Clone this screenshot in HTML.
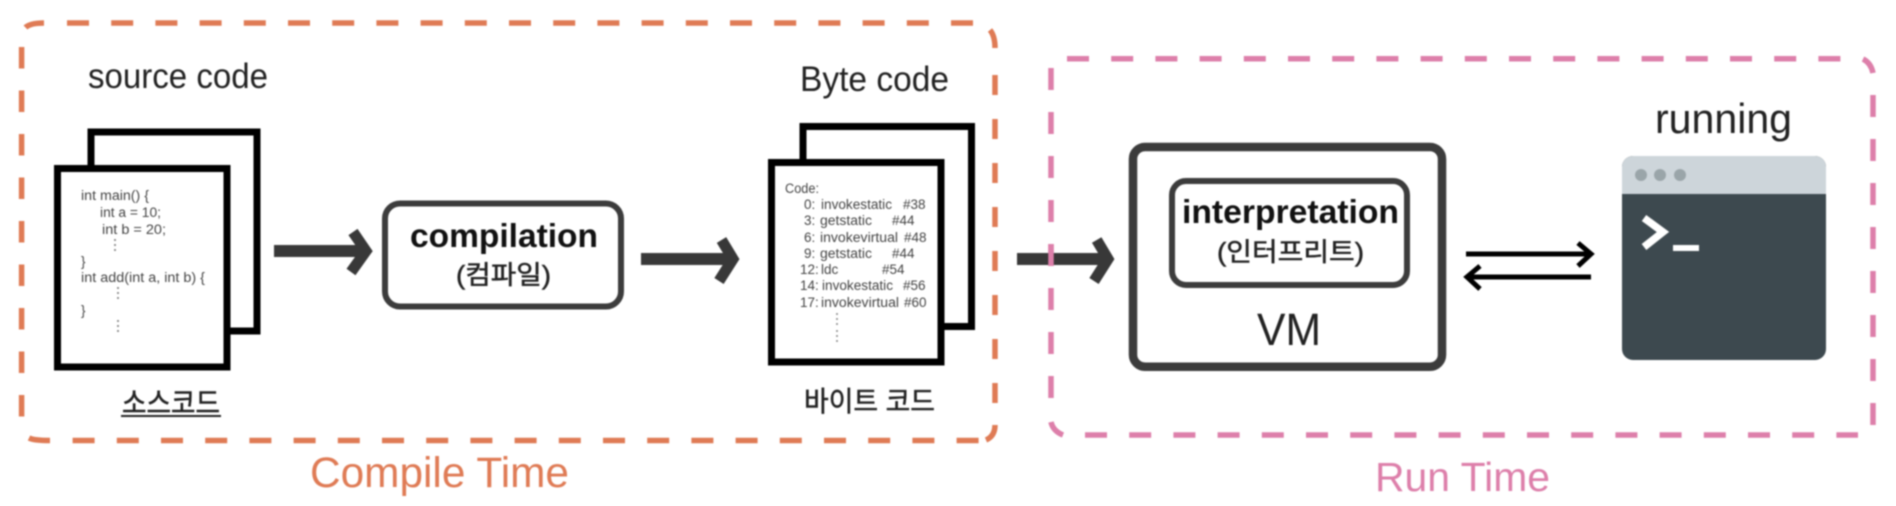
<!DOCTYPE html>
<html><head><meta charset="utf-8">
<style>
html,body{margin:0;padding:0;background:#fff;width:1896px;height:506px;overflow:hidden}
svg{display:block;filter:blur(0.7px)}
text{font-family:"Liberation Sans","Noto Sans CJK KR",sans-serif;fill:#222}
.c{font-size:13.5px;fill:#444}
.ko{font-family:"Liberation Sans","Noto Sans CJK KR",sans-serif;stroke:#222;stroke-width:0.5px}
</style></head><body>
<svg width="1896" height="506" viewBox="0 0 1896 506" xmlns="http://www.w3.org/2000/svg">
<rect width="1896" height="506" fill="#fff"/>

<!-- Compile Time dashed box -->
<g fill="none" stroke="#df7b55" stroke-width="5.5">
<path d="M25.5 27.5 Q30 23 44 23"/>
<path d="M67 23H974" stroke-dasharray="22 22.2"/>
<path d="M21.6 47V422" stroke-dasharray="21.5 22"/>
<path d="M29 438 Q34 440.5 50 440.5"/>
<path d="M72.6 440.5H979" stroke-dasharray="22 22.2"/>
<path d="M990 30 Q995 36 995 48"/>
<path d="M995 75V405" stroke-dasharray="20 24"/>
<path d="M995 425 Q995 436 986 440"/>
</g>

<!-- Run Time dashed box -->
<g fill="none" stroke="#dd7faa" stroke-width="5.5">
<path d="M1067 58.7H1842" stroke-dasharray="22 22.2"/>
<path d="M1051 68V398" stroke-dasharray="22 22"/>
<path d="M1051 422 Q1053 431 1063 435"/>
<path d="M1085 435H1858" stroke-dasharray="22 22.2"/>
<path d="M1863 59 Q1871 63 1873 73"/>
<path d="M1873 95V425" stroke-dasharray="22 22"/>
</g>

<!-- Source pages -->
<rect x="91" y="132" width="166" height="199" fill="#fff" stroke="#000" stroke-width="7"/>
<rect x="57.5" y="168.5" width="169.5" height="198.5" fill="#fff" stroke="#000" stroke-width="7"/>
<text x="88" y="88" font-size="35" textLength="180" lengthAdjust="spacingAndGlyphs">source code</text>
<g class="code">
<text class="c" x="81" y="200" textLength="68" lengthAdjust="spacingAndGlyphs">int main() {</text>
<text class="c" x="100" y="217" textLength="61" lengthAdjust="spacingAndGlyphs">int a = 10;</text>
<text class="c" x="102" y="234" textLength="64" lengthAdjust="spacingAndGlyphs">int b = 20;</text>
<text class="c" x="81" y="266">}</text>
<text class="c" x="81" y="282" textLength="124" lengthAdjust="spacingAndGlyphs">int add(int a, int b) {</text>
<text class="c" x="81" y="315">}</text>
</g>
<g fill="#777">
<circle cx="115" cy="240" r="1"/><circle cx="115" cy="245" r="1"/><circle cx="115" cy="250" r="1"/>
<circle cx="118" cy="288" r="1"/><circle cx="118" cy="293" r="1"/><circle cx="118" cy="298" r="1"/>
<circle cx="118" cy="321" r="1"/><circle cx="118" cy="326" r="1"/><circle cx="118" cy="331" r="1"/>
</g>
<text class="ko" x="122" y="413" font-size="29" textLength="98" lengthAdjust="spacingAndGlyphs">소스코드</text>
<rect x="121" y="415" width="100" height="2" fill="#222"/>

<!-- Arrow 1 -->
<g fill="none" stroke="#383838">
<path d="M274 251H362" stroke-width="12"/><path d="M353 232L366 251L351 272" stroke-width="11"/>
</g>

<!-- Compilation -->
<rect x="385" y="203.5" width="236" height="103" rx="15" fill="#fff" stroke="#3c3c3c" stroke-width="6"/>
<text x="410" y="247" font-size="33" font-weight="bold" textLength="188" lengthAdjust="spacingAndGlyphs" style="fill:#111">compilation</text>
<text class="ko" x="456" y="284" font-size="26" textLength="95" lengthAdjust="spacingAndGlyphs">(컴파일)</text>

<!-- Arrow 2 -->
<g fill="none" stroke="#383838">
<path d="M641 259H729" stroke-width="12"/><path d="M721.5 240L733 259L719 281" stroke-width="11"/>
</g>

<!-- Byte pages -->
<rect x="803" y="126.5" width="168.5" height="200" fill="#fff" stroke="#000" stroke-width="7"/>
<rect x="771.5" y="162.5" width="169.5" height="199.5" fill="#fff" stroke="#000" stroke-width="7"/>
<text x="800" y="91" font-size="35" textLength="149" lengthAdjust="spacingAndGlyphs">Byte code</text>
<text class="c" x="785" y="193" textLength="34" lengthAdjust="spacingAndGlyphs">Code:</text>
<text class="c" x="804" y="209">0:</text><text class="c" x="821" y="209" textLength="71" lengthAdjust="spacingAndGlyphs">invokestatic</text><text class="c" x="903" y="209">#38</text>
<text class="c" x="804" y="225">3:</text><text class="c" x="820" y="225" textLength="52" lengthAdjust="spacingAndGlyphs">getstatic</text><text class="c" x="892" y="225">#44</text>
<text class="c" x="804" y="242">6:</text><text class="c" x="820" y="242" textLength="78" lengthAdjust="spacingAndGlyphs">invokevirtual</text><text class="c" x="904" y="242">#48</text>
<text class="c" x="804" y="258">9:</text><text class="c" x="820" y="258" textLength="52" lengthAdjust="spacingAndGlyphs">getstatic</text><text class="c" x="892" y="258">#44</text>
<text class="c" x="800" y="274">12:</text><text class="c" x="821" y="274">ldc</text><text class="c" x="882" y="274">#54</text>
<text class="c" x="800" y="290">14:</text><text class="c" x="822" y="290" textLength="71" lengthAdjust="spacingAndGlyphs">invokestatic</text><text class="c" x="903" y="290">#56</text>
<text class="c" x="800" y="307">17:</text><text class="c" x="821" y="307" textLength="78" lengthAdjust="spacingAndGlyphs">invokevirtual</text><text class="c" x="904" y="307">#60</text>
<g fill="#888">
<circle cx="837" cy="314" r="1"/><circle cx="837" cy="319" r="1"/><circle cx="837" cy="324" r="1"/>
<circle cx="837" cy="331" r="1"/><circle cx="837" cy="336" r="1"/><circle cx="837" cy="341" r="1"/>
</g>
<text class="ko" x="804" y="411" font-size="28" textLength="131" lengthAdjust="spacingAndGlyphs">바이트 코드</text>

<!-- Arrow 3 -->
<g fill="none" stroke="#383838">
<path d="M1017 259H1104" stroke-width="12"/><path d="M1096.7 240L1108 259L1094 281" stroke-width="11"/>
</g>
<path d="M1051 244V266" stroke="#dd7faa" stroke-width="5.5" fill="none"/>

<!-- VM -->
<rect x="1133" y="147" width="309" height="219.7" rx="12" fill="#fff" stroke="#3c3c3c" stroke-width="8.5"/>
<rect x="1172" y="181" width="235" height="104" rx="14" fill="#fff" stroke="#3c3c3c" stroke-width="6"/>
<text x="1182" y="223" font-size="33" font-weight="bold" textLength="217" lengthAdjust="spacingAndGlyphs" style="fill:#111">interpretation</text>
<text class="ko" x="1217" y="261" font-size="26" textLength="147" lengthAdjust="spacingAndGlyphs">(인터프리트)</text>
<text x="1257" y="345" font-size="45" textLength="64" lengthAdjust="spacingAndGlyphs">VM</text>

<!-- Double arrows -->
<g fill="none" stroke="#000" stroke-width="5">
<path d="M1466 254H1590"/><path d="M1578 243L1591 254L1578 266"/>
<path d="M1467 277H1591"/><path d="M1480 266L1467 277L1480 289"/>
</g>

<!-- Terminal -->
<text x="1655" y="133" font-size="42" textLength="137" lengthAdjust="spacingAndGlyphs">running</text>
<rect x="1622" y="156" width="204" height="204" rx="11" fill="#3d494f"/>
<path d="M1622 194V167a11 11 0 0 1 11-11H1815a11 11 0 0 1 11 11V194Z" fill="#cdd5da"/>
<circle cx="1641" cy="175" r="6" fill="#9aa5a9"/>
<circle cx="1660" cy="175" r="6" fill="#9aa5a9"/>
<circle cx="1680" cy="175" r="6" fill="#9aa5a9"/>
<path d="M1644 218L1663 232L1644 247" fill="none" stroke="#fff" stroke-width="7.5"/>
<rect x="1673" y="245" width="26" height="6" fill="#fff"/>

<!-- Captions -->
<text x="310" y="487" font-size="43" textLength="259" lengthAdjust="spacingAndGlyphs" style="fill:#df7b55">Compile Time</text>
<text x="1375" y="491" font-size="41" textLength="175" lengthAdjust="spacingAndGlyphs" style="fill:#dd7faa">Run Time</text>
</svg>
</body></html>
